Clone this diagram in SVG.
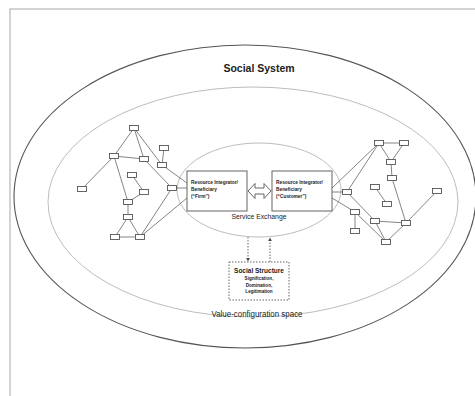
<svg xmlns="http://www.w3.org/2000/svg" width="475" height="396" viewBox="0 0 475 396">
<defs>
<style>
.frame{fill:none;stroke:#a8a8a8;stroke-width:1}
.outer{fill:none;stroke:#555;stroke-width:1.1}
.mid{fill:none;stroke:#bdbdbd;stroke-width:1}
.inner{fill:none;stroke:#bdbdbd;stroke-width:1}
.n{fill:#fff;stroke:#555;stroke-width:0.9}
.e{stroke:#666;stroke-width:0.8;fill:none}
.box{fill:#fff;stroke:#555;stroke-width:0.9}
.dash{stroke:#555;stroke-width:0.9;stroke-dasharray:1.5 1.5;fill:none}
.t{font-family:"Liberation Sans",Arial,sans-serif;fill:#222}
.b{font-weight:bold}
</style>
<marker id="ah" viewBox="0 0 6 6" refX="5" refY="3" markerWidth="4" markerHeight="4" orient="auto">
<path d="M0,0 L6,3 L0,6 z" fill="#444"/>
</marker>
</defs>
<rect width="475" height="396" fill="#fff"/>
<rect class="frame" x="10" y="9" width="480" height="400"/>
<g id="social-system">
<ellipse class="outer" cx="245" cy="196.5" rx="231" ry="151.5"/>
<text class="t b" x="259" y="72" font-size="10.5" text-anchor="middle">Social System</text>
</g>
<g id="value-configuration-space">
<ellipse class="mid" cx="253" cy="202" rx="205" ry="115"/>
<text class="t" x="257" y="317" font-size="8.5" text-anchor="middle" textLength="91" lengthAdjust="spacingAndGlyphs">Value-configuration space</text>
</g>
<g id="service-exchange">
<ellipse class="inner" cx="259" cy="190" rx="82" ry="47"/>
<text class="t" x="259" y="219" font-size="7" text-anchor="middle" textLength="55" lengthAdjust="spacingAndGlyphs">Service Exchange</text>
</g>
<g id="connectors">
<!-- left network -->
<line class="e" x1="134" y1="128" x2="114" y2="156"/>
<line class="e" x1="134" y1="128" x2="144" y2="159"/>
<line class="e" x1="134" y1="128" x2="162" y2="165"/>
<line class="e" x1="114" y1="156" x2="144" y2="159"/>
<line class="e" x1="164" y1="148" x2="162" y2="165"/>
<line class="e" x1="114" y1="156" x2="82" y2="189"/>
<line class="e" x1="114" y1="156" x2="128" y2="202"/>
<line class="e" x1="144" y1="159" x2="172" y2="188"/>
<line class="e" x1="132" y1="175" x2="144" y2="192"/>
<line class="e" x1="128" y1="202" x2="144" y2="192"/>
<line class="e" x1="128" y1="202" x2="128" y2="217"/>
<line class="e" x1="128" y1="217" x2="115" y2="237"/>
<line class="e" x1="128" y1="217" x2="140" y2="237"/>
<line class="e" x1="115" y1="237" x2="140" y2="237"/>
<line class="e" x1="140" y1="237" x2="172" y2="188"/>
<line class="e" x1="162" y1="165" x2="187" y2="183"/>
<line class="e" x1="172" y1="188" x2="187" y2="188"/>
<line class="e" x1="140" y1="237" x2="187" y2="198"/>
<!-- right network -->
<line class="e" x1="379" y1="143" x2="404" y2="143"/>
<line class="e" x1="379" y1="143" x2="391" y2="162"/>
<line class="e" x1="404" y1="143" x2="391" y2="162"/>
<line class="e" x1="391" y1="162" x2="392" y2="178"/>
<line class="e" x1="392" y1="178" x2="406" y2="223"/>
<line class="e" x1="375" y1="187" x2="387" y2="204"/>
<line class="e" x1="379" y1="143" x2="347" y2="192"/>
<line class="e" x1="379" y1="143" x2="332" y2="188"/>
<line class="e" x1="347" y1="192" x2="332" y2="192"/>
<line class="e" x1="347" y1="192" x2="375" y2="221"/>
<line class="e" x1="332" y1="198" x2="355" y2="212"/>
<line class="e" x1="355" y1="212" x2="355" y2="231"/>
<line class="e" x1="355" y1="212" x2="386" y2="242"/>
<line class="e" x1="375" y1="221" x2="386" y2="242"/>
<line class="e" x1="375" y1="221" x2="406" y2="223"/>
<line class="e" x1="406" y1="223" x2="386" y2="242"/>
<line class="e" x1="406" y1="223" x2="437" y2="191"/>
<!-- social structure links -->
<line class="dash" x1="248" y1="237" x2="248" y2="261" marker-end="url(#ah)"/>
<line class="dash" x1="270" y1="262" x2="270" y2="238" marker-end="url(#ah)"/>
<!-- double arrow -->
<polygon points="248,191 255,183.5 255,188 264,188 264,183.5 271,191 264,198.5 264,194 255,194 255,198.5" fill="#fff" stroke="#555" stroke-width="0.9"/>
</g>
<g id="left-nodes">
<rect class="n" x="129.5" y="125.5" width="9" height="5"/>
<rect class="n" x="109.5" y="153.5" width="9" height="5"/>
<rect class="n" x="139.5" y="156.5" width="9" height="5"/>
<rect class="n" x="159.5" y="145.5" width="9" height="5"/>
<rect class="n" x="157.5" y="162.5" width="9" height="5"/>
<rect class="n" x="127.5" y="172.5" width="9" height="5"/>
<rect class="n" x="139.5" y="189.5" width="9" height="5"/>
<rect class="n" x="77.5" y="186.5" width="9" height="5"/>
<rect class="n" x="167.5" y="185.5" width="9" height="5"/>
<rect class="n" x="123.5" y="199.5" width="9" height="5"/>
<rect class="n" x="123.5" y="214.5" width="9" height="5"/>
<rect class="n" x="110.5" y="234.5" width="9" height="5"/>
<rect class="n" x="135.5" y="234.5" width="9" height="5"/>
</g>
<g id="right-nodes">
<rect class="n" x="374.5" y="140.5" width="9" height="5"/>
<rect class="n" x="399.5" y="140.5" width="9" height="5"/>
<rect class="n" x="386.5" y="159.5" width="9" height="5"/>
<rect class="n" x="387.5" y="175.5" width="9" height="5"/>
<rect class="n" x="370.5" y="184.5" width="9" height="5"/>
<rect class="n" x="382.5" y="201.5" width="9" height="5"/>
<rect class="n" x="342.5" y="189.5" width="9" height="5"/>
<rect class="n" x="432.5" y="188.5" width="9" height="5"/>
<rect class="n" x="350.5" y="209.5" width="9" height="5"/>
<rect class="n" x="370.5" y="218.5" width="9" height="5"/>
<rect class="n" x="350.5" y="228.5" width="9" height="5"/>
<rect class="n" x="401.5" y="220.5" width="9" height="5"/>
<rect class="n" x="381.5" y="239.5" width="9" height="5"/>
</g>
<g id="firm">
<rect class="box" x="187" y="171" width="60" height="40"/>
<text class="t b" font-size="4.8" x="191" y="184">Resource Integrator/</text>
<text class="t b" font-size="4.8" x="191" y="190.5">Beneficiary</text>
<text class="t b" font-size="4.8" x="191" y="198">(“Firm”)</text>
</g>
<g id="customer">
<rect class="box" x="272" y="171" width="60" height="40"/>
<text class="t b" font-size="4.8" x="276" y="184">Resource Integrator/</text>
<text class="t b" font-size="4.8" x="276" y="190.5">Beneficiary</text>
<text class="t b" font-size="4.8" x="276" y="198">(“Customer”)</text>
</g>
<g id="social-structure">
<rect x="229" y="262" width="60" height="38" fill="#fff" stroke="#555" stroke-width="0.9" stroke-dasharray="1.5 1.5"/>
<text class="t b" x="259" y="273" font-size="6.5" text-anchor="middle">Social Structure</text>
<text class="t b" x="259" y="280" font-size="4.6" text-anchor="middle">Signification,</text>
<text class="t b" x="259" y="286.5" font-size="4.6" text-anchor="middle">Domination,</text>
<text class="t b" x="259" y="293" font-size="4.6" text-anchor="middle">Legitimation</text>
</g>
</svg>
